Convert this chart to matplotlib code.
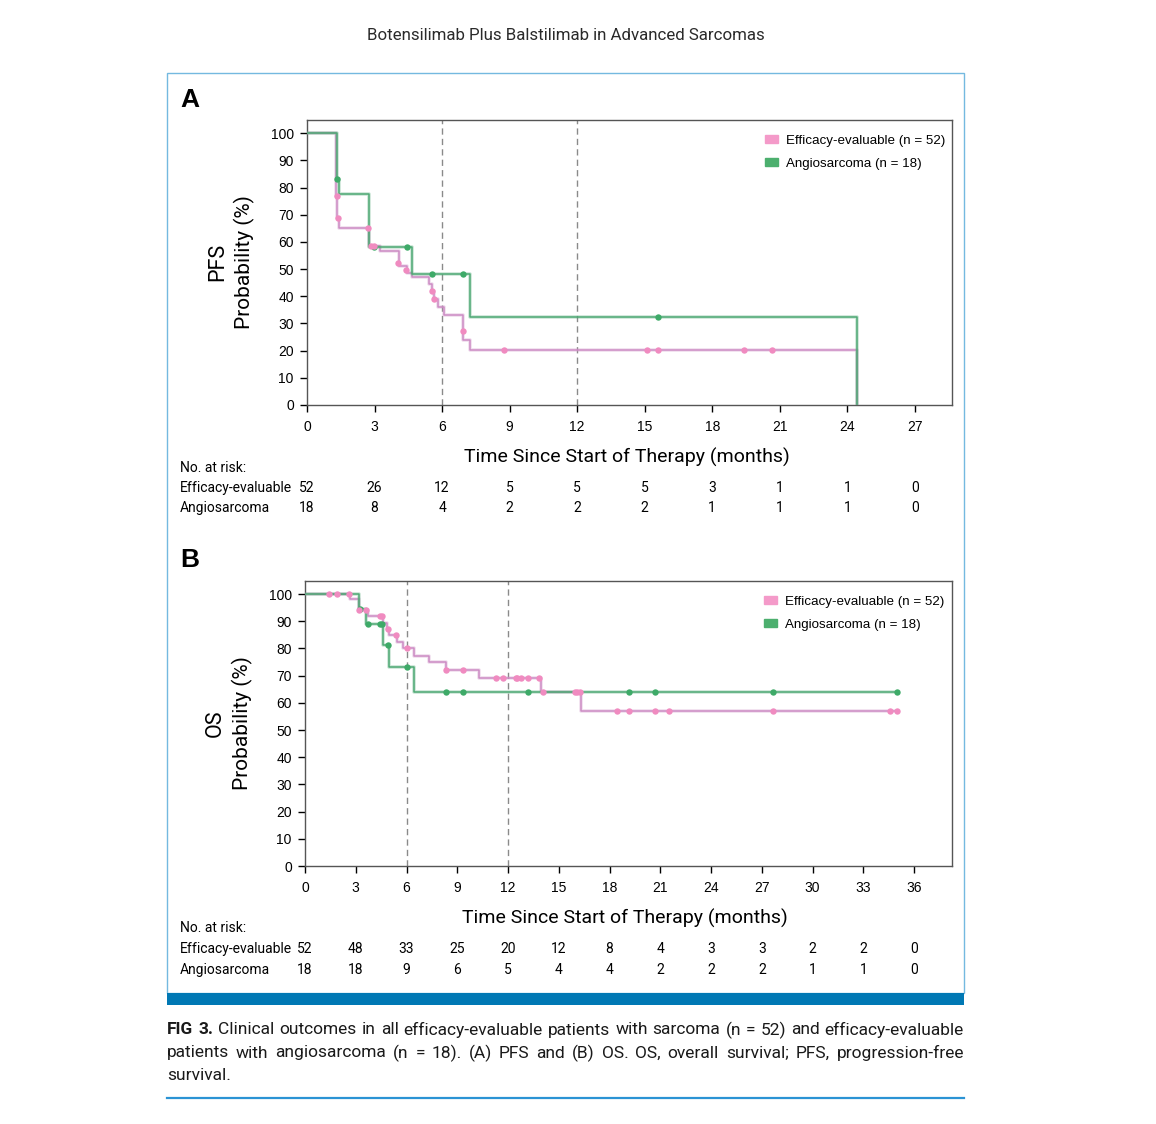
import matplotlib
matplotlib.use('agg')
import matplotlib.pyplot as plt
from matplotlib import font_manager
from matplotlib.patches import Rectangle, Patch
from matplotlib.lines import Line2D
import matplotlib.transforms as mtransforms

# ---- data ----
# PFS, efficacy-evaluable (n = 52): step times / survival after the step
pfs_eff_t = [0, 1.29, 1.35, 1.44, 2.75, 3.24, 4.09, 4.42, 4.65, 5.44, 5.55, 5.62, 5.84, 6.09, 6.92, 6.95, 7.24, 24.43]
pfs_eff_s = [100, 77.0, 69.0, 65.0, 58.6, 56.6, 51.1, 48.5, 47.2, 44.4, 41.9, 39.0, 35.9, 33.1, 27.1, 23.9, 20.3, 0]
pfs_eff_ct = [1.33, 1.37, 2.73, 2.83, 2.98, 4.06, 4.40, 5.55, 5.62, 6.93, 8.76, 15.1, 15.6, 19.4, 20.65]
pfs_eff_cs = [77.0, 69.0, 65.0, 58.6, 58.6, 52.1, 49.6, 41.9, 39.0, 27.1, 20.3, 20.3, 20.3, 20.3, 20.3]

# PFS, angiosarcoma (n = 18)
pfs_ang_t = [0, 1.32, 1.40, 2.77, 4.65, 7.24, 24.43]
pfs_ang_s = [100, 83.3, 77.8, 58.3, 48.4, 32.4, 0]
pfs_ang_ct = [1.32, 2.98, 4.43, 5.54, 6.93, 15.6]
pfs_ang_cs = [83.3, 58.3, 58.3, 48.4, 48.4, 32.4]

# OS, efficacy-evaluable
os_eff_t = [0, 2.66, 3.21, 3.70, 4.63, 4.85, 4.98, 5.42, 5.77, 6.46, 7.33, 8.31, 10.28, 13.95, 16.33, 35.0]
os_eff_s = [100, 98.0, 94.1, 91.9, 89.5, 87.2, 85.0, 82.4, 80.1, 77.4, 75.0, 72.2, 69.1, 64.1, 57.1, 57.1]
os_eff_ct = [1.42, 1.91, 2.60, 3.21, 3.59, 4.43, 4.55, 4.89, 5.36, 6.01, 8.31, 9.36,
             11.29, 11.72, 12.45, 12.55, 12.78, 13.18, 13.83, 14.09, 15.96, 16.10, 16.25,
             18.46, 19.15, 20.69, 21.53, 27.64, 34.57, 35.0]
os_eff_cs = [100, 100, 100, 94.1, 94.1, 91.9, 91.9, 87.2, 85.0, 80.1, 72.2, 72.2,
             69.1, 69.1, 69.1, 69.1, 69.1, 69.1, 69.1, 64.1, 64.1, 64.1, 64.1,
             57.1, 57.1, 57.1, 57.1, 57.1, 57.1, 57.1]

# OS, angiosarcoma
os_ang_t = [0, 3.21, 3.62, 4.63, 4.98, 6.46, 35.0]
os_ang_s = [100, 94.4, 88.9, 81.4, 73.2, 64.1, 64.1]
os_ang_ct = [3.25, 3.70, 4.43, 4.55, 4.89, 6.05, 8.31, 9.36, 13.18, 19.13, 20.69, 27.64, 35.0]
os_ang_cs = [94.4, 88.9, 88.9, 88.9, 81.4, 73.2, 64.1, 64.1, 64.1, 64.1, 64.1, 64.1, 64.1]

# numbers at risk
risk_a_times = [0, 3, 6, 9, 12, 15, 18, 21, 24, 27]
risk_a_eff = [52, 26, 12, 5, 5, 5, 3, 1, 1, 0]
risk_a_ang = [18, 8, 4, 2, 2, 2, 1, 1, 1, 0]
risk_b_times = [0, 3, 6, 9, 12, 15, 18, 21, 24, 27, 30, 33, 36]
risk_b_eff = [52, 48, 33, 25, 20, 12, 8, 4, 3, 3, 2, 2, 0]
risk_b_ang = [18, 18, 9, 6, 5, 4, 4, 2, 2, 2, 1, 1, 0]

labels = ['Efficacy-evaluable (n = 52)', 'Angiosarcoma (n = 18)']
row_names = ['Efficacy-evaluable', 'Angiosarcoma']

# ---- fonts ----
names = {f.name for f in font_manager.fontManager.ttflist}
NARROW = 'Liberation Sans Narrow' if 'Liberation Sans Narrow' in names else 'Roboto'
SANS = 'Liberation Sans' if 'Liberation Sans' in names else 'DejaVu Sans'

PINK_LINE = '#cc8cc4'
PINK_DOT = '#f08bc0'
PINK_PATCH = '#f49ac9'
GREEN_LINE = '#4ea874'
GREEN_DOT = '#3eaa68'
GREEN_PATCH = '#4caf6e'

W, H = 1156, 1124
fig = plt.figure(figsize=(W / 100, H / 100), dpi=100)
fig.patch.set_facecolor('white')


def fx(px):
    return px / W


def fy(py):
    return 1 - py / H


def km_axes(left, right, top, bottom, xmax, ymax, xticks):
    ax = fig.add_axes([fx(left), fy(bottom), fx(right - left), (bottom - top) / H])
    ax.set_xlim(0, xmax)
    ax.set_ylim(0, ymax)
    ax.set_xticks(xticks)
    ax.set_yticks(range(0, 101, 10))
    for sp in ax.spines.values():
        sp.set_color('#555555')
        sp.set_linewidth(1)
    ax.tick_params(axis='both', direction='out', length=5, width=1, color='black',
                   labelsize=10, labelcolor='black')
    ax.tick_params(axis='x', pad=5.5)
    ax.tick_params(axis='y', pad=4.5)
    for lab in ax.get_xticklabels() + ax.get_yticklabels():
        lab.set_family(SANS)
    ax.axvline(6, color='#8a8a8a', ls=(0, (4.5, 3)), lw=1, zorder=1)
    ax.axvline(12, color='#8a8a8a', ls=(0, (4.5, 3)), lw=1, zorder=1)
    return ax


def draw_curves(ax, eff, ang):
    for (t, s, ct, cs), lc, z in [(eff, PINK_LINE, 3), (ang, GREEN_LINE, 4)]:
        ax.step(t, s, where='post', color=lc, lw=2.6, alpha=0.3, zorder=z)
        ax.step(t, s, where='post', color=lc, lw=1.1, zorder=z)
    ax.plot(ang[2], ang[3], 'o', color=GREEN_DOT, ms=4.6, mec='none', zorder=5)
    ax.plot(eff[2], eff[3], 'o', color=PINK_DOT, ms=4.6, mec='none', zorder=6)
    handles = [Patch(color=PINK_PATCH), Patch(color=GREEN_PATCH)]
    ax.legend(handles, labels, loc='upper left', bbox_to_anchor=(0.691, 0.99), frameon=False,
              prop={'family': SANS, 'size': 9.6}, handlelength=1.0, handleheight=0.55,
              handletextpad=0.6, labelspacing=0.85)


def risk_table(ax, times, eff, ang, y_head, y1, y2):
    tr = mtransforms.blended_transform_factory(ax.transData, fig.transFigure)
    fig.text(fx(180), fy(y_head), 'No. at risk:', family=NARROW, fontsize=10, va='center')
    for name, vals, yy in [(row_names[0], eff, y1), (row_names[1], ang, y2)]:
        fig.text(fx(180), fy(yy), name, family=NARROW, fontsize=10, va='center')
        for t, v in zip(times, vals):
            ax.text(t, fy(yy), str(v), transform=tr, family=NARROW, fontsize=10,
                    ha='center', va='center', clip_on=False)


# ---- panel A ----
axA = km_axes(307, 952, 120, 405, 28.65, 104.9, range(0, 28, 3))
draw_curves(axA, (pfs_eff_t, pfs_eff_s, pfs_eff_ct, pfs_eff_cs), (pfs_ang_t, pfs_ang_s, pfs_ang_ct, pfs_ang_cs))
fig.text(fx(180), fy(100), 'A', family=SANS, fontweight='bold', fontsize=19, va='center')
fig.text(fx(218), fy(262), 'PFS', family=NARROW, fontsize=15.5, rotation=90, ha='center', va='center')
fig.text(fx(244), fy(262), 'Probability (%)', family=NARROW, fontsize=15, rotation=90, ha='center', va='center')
fig.text(fx(627), fy(457), 'Time Since Start of Therapy (months)', family=NARROW, fontsize=14, ha='center', va='center')
risk_table(axA, risk_a_times, risk_a_eff, risk_a_ang, 468, 488, 508)

# ---- panel B ----
axB = km_axes(305, 952, 581, 866, 38.24, 104.8, range(0, 37, 3))
draw_curves(axB, (os_eff_t, os_eff_s, os_eff_ct, os_eff_cs), (os_ang_t, os_ang_s, os_ang_ct, os_ang_cs))
fig.text(fx(180), fy(560), 'B', family=SANS, fontweight='bold', fontsize=19, va='center')
fig.text(fx(215), fy(723), 'OS', family=NARROW, fontsize=15.5, rotation=90, ha='center', va='center')
fig.text(fx(242), fy(723), 'Probability (%)', family=NARROW, fontsize=15, rotation=90, ha='center', va='center')
fig.text(fx(625), fy(918), 'Time Since Start of Therapy (months)', family=NARROW, fontsize=14, ha='center', va='center')
risk_table(axB, risk_b_times, risk_b_eff, risk_b_ang, 928, 949, 970)

# ---- frame, header, caption ----
fig.text(fx(566), fy(36), 'Botensilimab Plus Balstilimab in Advanced Sarcomas', family='Roboto',
         fontsize=12.2, color='#2a2a2a', ha='center', va='center')
fig.patches.append(Rectangle((fx(167), fy(993)), fx(964 - 167), (993 - 73) / H, transform=fig.transFigure,
                             fill=False, ec='#74b9e0', lw=1))
fig.patches.append(Rectangle((fx(167), fy(1005)), fx(964 - 167), 12 / H, transform=fig.transFigure,
                             fc='#0078b4', ec='none'))
fig.lines.append(Line2D([fx(167), fx(964)], [fy(1098), fy(1098)], transform=fig.transFigure,
                        color='#2b93d4', lw=1.6))

caption = [
    [('FIG', True), ('3.', True)] + [(w, False) for w in
     'Clinical outcomes in all efficacy-evaluable patients with sarcoma (n = 52) and efficacy-evaluable'.split(' ')],
    [(w, False) for w in
     'patients with angiosarcoma (n = 18). (A) PFS and (B) OS. OS, overall survival; PFS, progression-free'.split(' ')],
    [('survival.', False)],
]
renderer = fig.canvas.get_renderer()
for i, (words, yy) in enumerate(zip(caption, [1030, 1053, 1076])):
    items = [fig.text(0, fy(yy), w, family=NARROW, fontsize=12.5, color='#1a1a1a',
                      fontweight='bold' if b else 'normal', va='center', ha='left') for w, b in words]
    widths = [t.get_window_extent(renderer).width for t in items]
    if i < 2:
        gap = (964 - 167 - sum(widths)) / (len(items) - 1)
    else:
        gap = 4
    x = 167
    for t, w in zip(items, widths):
        t.set_x(fx(x))
        x += w + gap

fig.savefig('out.png', dpi=100, facecolor='white')
